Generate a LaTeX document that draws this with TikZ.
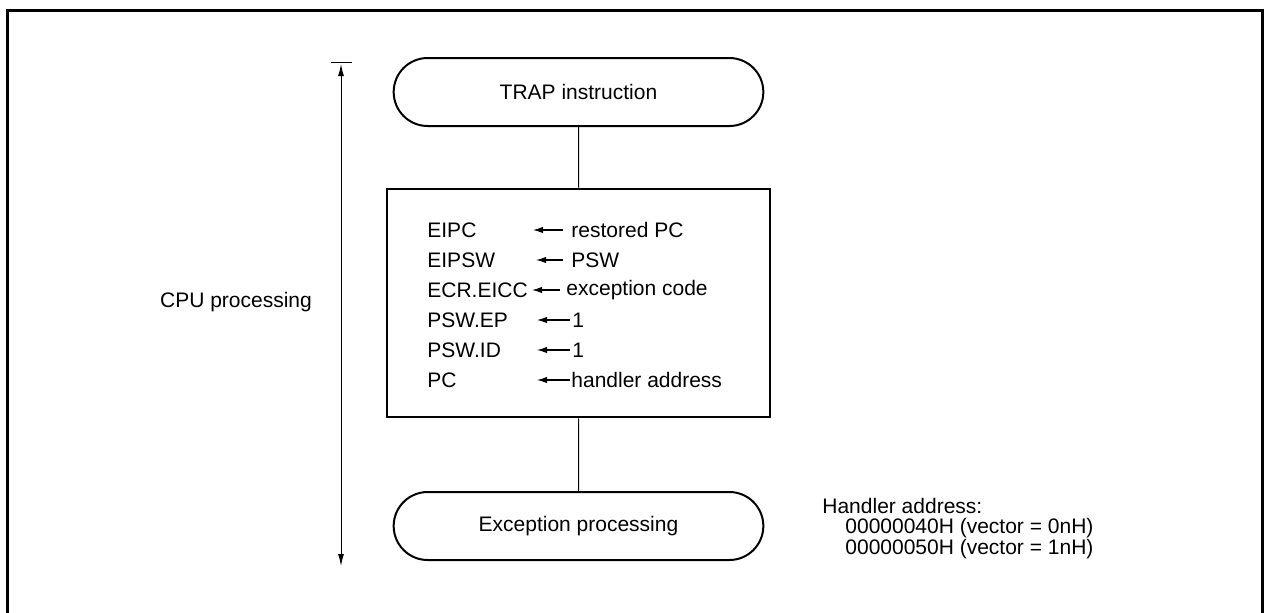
\documentclass[tikz,border=0pt]{standalone}
\usepackage{fontspec}
\setmainfont{Liberation Sans}
\usetikzlibrary{arrows.meta,shapes.misc}
\begin{document}
\begin{tikzpicture}[x=0.5pt,y=-0.5pt,
  every node/.style={font=\fontsize{10.5}{12}\selectfont},
  term/.style={draw,line width=1pt,rounded rectangle,minimum width=191.5pt,minimum height=34pt},
  procbox/.style={draw,line width=1.4pt,minimum width=191.5pt,minimum height=114pt},
  conn/.style={line width=0.5pt},
  lbl/.style={anchor=west,inner sep=0pt},
  asg/.style={line width=0.6pt,-{Latex[length=5pt,width=3.2pt]}}]
\useasboundingbox (0,0) rectangle (1264,612);
\draw[line width=1.5pt] (7,620) -- (7,10) -- (1262,10) -- (1262,620);

\node[term] (trap) at (578.5,92) {TRAP instruction};
\node[procbox] (proc) at (578.5,303) {};
\node[term] (exc) at (578.5,526) {Exception processing};
\draw[conn] (trap) -- (proc);
\draw[conn] (proc) -- (exc);

% assignments
\foreach \i/\l/\r/\tip/\tail/\tx in {0/EIPC/restored PC/533/563/571,
    1/EIPSW/PSW/536/563/571,
    2/ECR.EICC/exception code/532/560/566,
    3/PSW.EP/1/537/570/572,
    4/PSW.ID/1/537/570/572,
    5/PC/handler address/537/570/571}{
  \node[lbl] (l\i) at (427,230+30*\i) {\l};
  \node[lbl] (r\i) at (\tx,230+30*\i) {\r};
  \coordinate (t\i) at (\tail,230+30*\i);
  \coordinate (h\i) at (\tip,230+30*\i);
  \draw[asg] (t\i) -- (h\i);
}

% CPU processing range
\coordinate (ttop) at (341,64);
\coordinate (tbot) at (341,566);
\coordinate (tickl) at (331,62);
\coordinate (tickr) at (352,62);
\draw[conn] (tickl) -- (tickr);
\draw[conn,{Latex[length=6pt,width=3pt]}-{Latex[length=6pt,width=3pt]}] (ttop) -- (tbot);
\node (cpu) at (236,302) {CPU processing};

% handler address note
\node[lbl] (ha) at (822,506) {Handler address:};
\node[lbl] (h1) at (845,528) {00000040H (vector = 0nH)};
\node[lbl] (h2) at (845,549) {00000050H (vector = 1nH)};
\end{tikzpicture}
\end{document}
